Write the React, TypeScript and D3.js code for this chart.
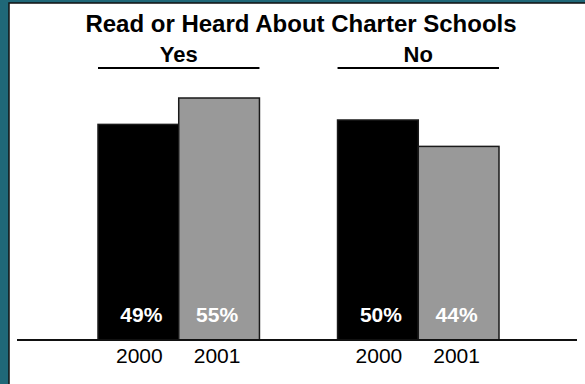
import React from "react";
import * as d3 from "d3";

const title = "Read or Heard About Charter Schools";
const groups = ["Yes", "No"];
const years = ["2000", "2001"];
const valuesYes = [49, 55];
const valuesNo = [50, 44];
const barColors = ["#000000", "#999999"];

const W = 585;
const H = 384;

export default function App() {
  const seriesByGroup: Record<string, number[]> = { Yes: valuesYes, No: valuesNo };
  const x0 = d3.scaleBand<string>().domain(groups).range([98, 499]).paddingInner(0.326).paddingOuter(0);
  const x1 = d3.scaleBand<string>().domain(years).range([0, x0.bandwidth()]).padding(0);
  const y = d3.scaleLinear().domain([0, 60]).range([340, 340 - 60 * 4.4]);
  const font = "'Liberation Sans', Arial, Helvetica, sans-serif";

  return (
    <svg width={W} height={H} style={{ position: "absolute", left: 0, top: 0 }} fontFamily={font}>
      <rect x={0} y={0} width={W} height={H} fill="#1f6878" />
      <rect x={9} y={3} width={W} height={H} fill="#ffffff" stroke="#111" strokeWidth={1.5} />
      <text x={301} y={32} textAnchor="middle" fontSize={24} fontWeight="bold" fill="#000">
        {title}
      </text>
      {groups.map((g) => {
        const gx = x0(g)!;
        return (
          <g key={g}>
            <text x={gx + x0.bandwidth() / 2} y={62} textAnchor="middle" fontSize={22} fontWeight="bold" fill="#000">
              {g}
            </text>
            <line x1={gx} x2={gx + x0.bandwidth()} y1={68} y2={68} stroke="#000" strokeWidth={2.2} />
            {years.map((yr, i) => {
              const v = seriesByGroup[g][i];
              const bx = gx + x1(yr)!;
              const bw = x1.bandwidth();
              return (
                <g key={yr}>
                  <rect x={bx} y={y(v)} width={bw} height={y(0) - y(v)} fill={barColors[i]} stroke="#1a1a1a" strokeWidth={1.5} />
                  <text x={bx + bw / 2 + (i === 0 ? 3 : -2)} y={322} textAnchor="middle" fontSize={21} fontWeight="bold" fill="#fff">
                    {v}%
                  </text>
                  <text x={bx + bw / 2 + (i === 0 ? 1 : -2)} y={363} textAnchor="middle" fontSize={21} fill="#000">
                    {yr}
                  </text>
                </g>
              );
            })}
          </g>
        );
      })}
      <line x1={17} x2={577} y1={y(0)} y2={y(0)} stroke="#111" strokeWidth={2} />
    </svg>
  );
}
